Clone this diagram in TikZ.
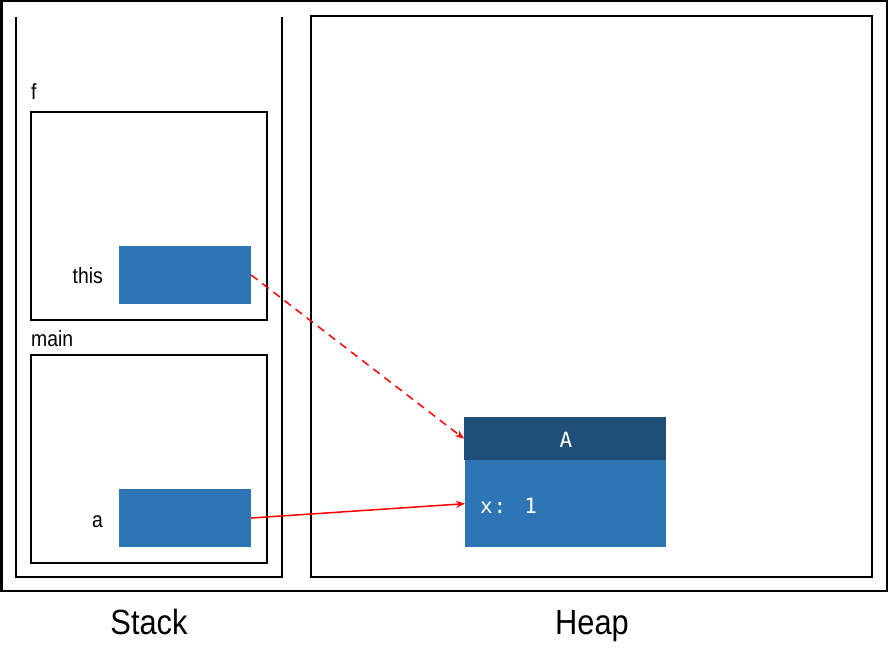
\documentclass[tikz,border=0pt]{standalone}
\usepackage{fontspec}
\setmainfont{Liberation Sans}
\newfontfamily\narrowsans[FakeStretch=0.88]{Liberation Sans}
\newfontfamily\monofont[LetterSpace=4]{DejaVu Sans Mono}
\usetikzlibrary{arrows.meta}
\definecolor{objblue}{HTML}{2E75B6}
\definecolor{hdrblue}{HTML}{1F4E79}
\definecolor{arrred}{HTML}{FF0000}
\tikzset{
  frame/.style={draw=black, line width=2pt},
  slot/.style={fill=objblue, draw=none, inner sep=0pt},
  lbl/.style={inner sep=0pt, font=\narrowsans\fontsize{22}{24}\selectfont},
  big/.style={inner sep=0pt, font=\narrowsans\fontsize{35}{40}\selectfont},
  mono/.style={text=white, inner sep=0pt, font=\monofont\fontsize{21}{24}\selectfont},
  ref/.style={draw=arrred, line width=1.5pt, -{Stealth[length=9pt,width=7pt]}},
}
\begin{document}
\begin{tikzpicture}[x=1pt,y=-1pt]
\useasboundingbox (0,0) rectangle (888,668);
% outer frame
\draw[line width=2.5pt] (1.25,1.25) rectangle (886.75,591);
% stack container (open top)
\draw[frame] (16,17) -- (16,577) -- (282,577) -- (282,17);
% heap
\draw[frame] (311,16) rectangle (872,577);
% frames
\node[lbl, anchor=base west] (flbl) at (31,100) {f};
\draw[frame] (31,112) rectangle (267,320);
\node[slot, minimum width=132pt, minimum height=58pt] (thisbox) at (185,275) {};
\node[lbl, anchor=east] (thislbl) at (103,276) {this};
\node[lbl, anchor=base west] (mainlbl) at (31,346) {main};
\draw[frame] (31,355) rectangle (267,563);
\node[slot, minimum width=132pt, minimum height=58pt] (abox) at (185,518) {};
\node[lbl, anchor=base east] (albl) at (103,527) {a};
% object A
\node[fill=hdrblue, inner sep=0pt, minimum width=202pt, minimum height=43pt, anchor=north west] (hdr) at (464,417) {};
\node[mono] (hdrtxt) at (566,440) {A};
\node[fill=objblue, inner sep=0pt, minimum width=201pt, minimum height=87pt, anchor=north west] (body) at (465,460) {};
\node[mono, anchor=base west] (xtxt) at (480,513) {x: 1};
% references
\draw[ref, dash pattern=on 8pt off 6pt] (thisbox.east) -- (hdr.west);
\draw[ref] (abox.east) -- (body.west);
% captions
\node[big, anchor=base] (stacklbl) at (149,634) {Stack};
\node[big, anchor=base] (heaplbl) at (592,634) {Heap};
\end{tikzpicture}
\end{document}
